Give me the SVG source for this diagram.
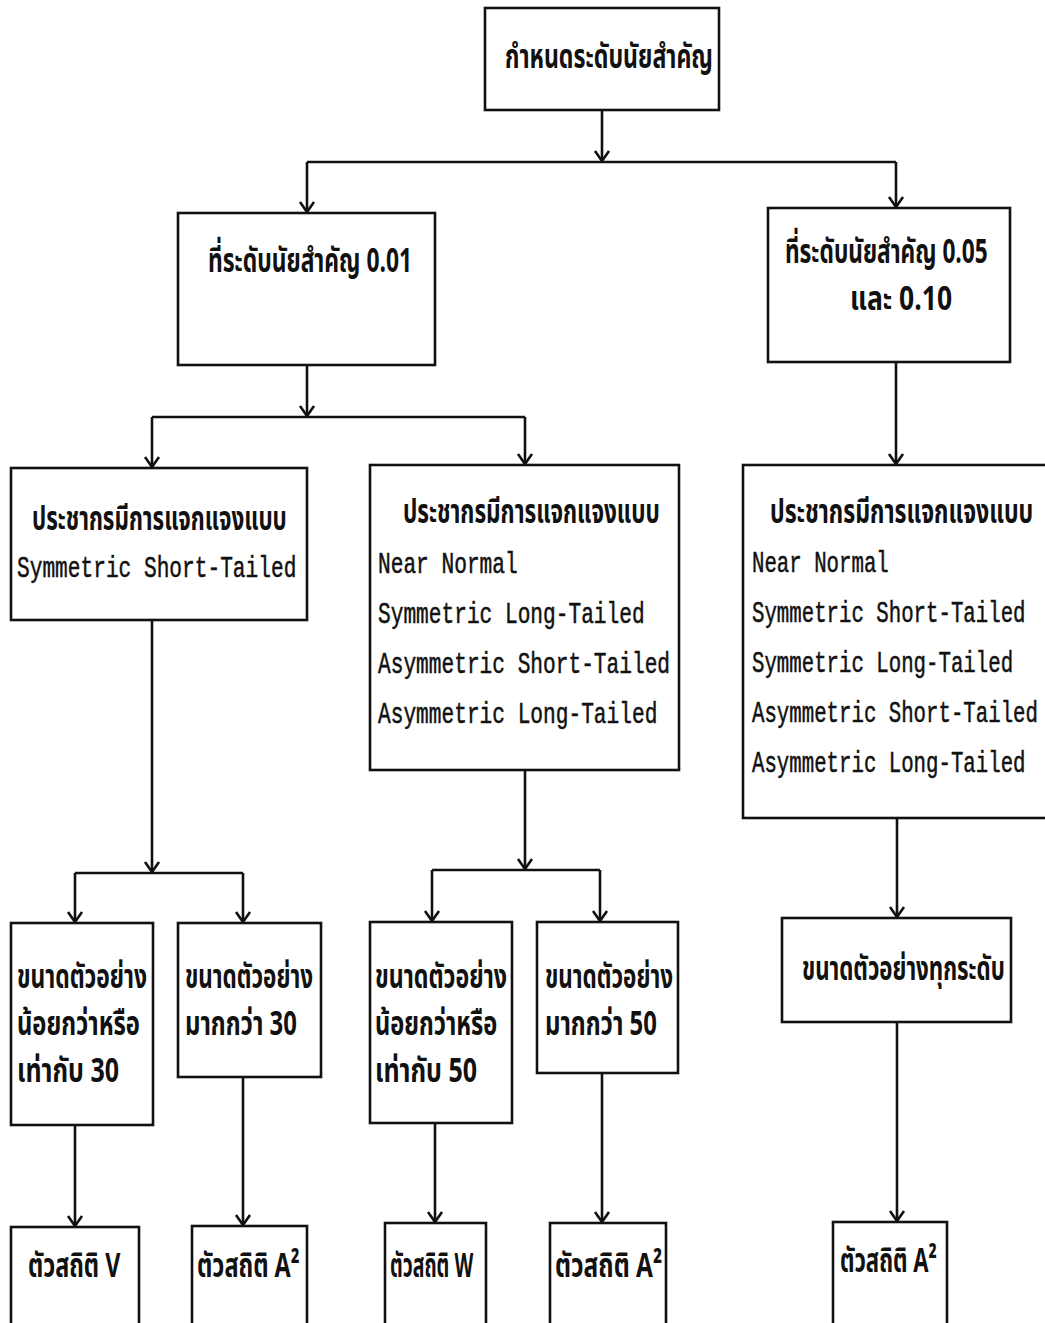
<svg xmlns="http://www.w3.org/2000/svg" width="1045" height="1323" viewBox="0 0 1045 1323">
<style>
.box{fill:none;stroke:#111;stroke-width:2.6}
.con{fill:none;stroke:#111;stroke-width:2.6}
.th{font-family:"Noto Sans Thai","Noto Sans",sans-serif;font-size:34px;font-weight:bold;fill:#111}
.mo{font-family:"Liberation Mono",monospace;font-size:29px;fill:#111;stroke:#111;stroke-width:0.5}
</style>
<defs>
<marker id="arr" markerUnits="userSpaceOnUse" viewBox="-12 -9 14 18" markerWidth="14" markerHeight="18" refX="0" refY="0" orient="auto">
<path d="M-10,-7 L0,0 L-10,7" fill="none" stroke="#111" stroke-width="2.6"/>
</marker>
</defs>
<rect width="1045" height="1323" fill="#fff"/>
<g id="connectors">
<path class="con" d="M602,110 V161" marker-end="url(#arr)"/>
<path class="con" d="M307,162 H896"/>
<path class="con" d="M307,162 V212" marker-end="url(#arr)"/>
<path class="con" d="M896,162 V207" marker-end="url(#arr)"/>
<path class="con" d="M307,365 V416" marker-end="url(#arr)"/>
<path class="con" d="M152,417 H525"/>
<path class="con" d="M152,417 V467" marker-end="url(#arr)"/>
<path class="con" d="M525,417 V464" marker-end="url(#arr)"/>
<path class="con" d="M896,362 V464" marker-end="url(#arr)"/>
<path class="con" d="M152,620 V872" marker-end="url(#arr)"/>
<path class="con" d="M75,873 H243"/>
<path class="con" d="M75,873 V922" marker-end="url(#arr)"/>
<path class="con" d="M243,873 V922" marker-end="url(#arr)"/>
<path class="con" d="M525,770 V869" marker-end="url(#arr)"/>
<path class="con" d="M432,870 H600"/>
<path class="con" d="M432,870 V921" marker-end="url(#arr)"/>
<path class="con" d="M600,870 V921" marker-end="url(#arr)"/>
<path class="con" d="M897,818 V917" marker-end="url(#arr)"/>
<path class="con" d="M75,1125 V1226" marker-end="url(#arr)"/>
<path class="con" d="M243,1077 V1225" marker-end="url(#arr)"/>
<path class="con" d="M435,1123 V1222" marker-end="url(#arr)"/>
<path class="con" d="M602,1073 V1222" marker-end="url(#arr)"/>
<path class="con" d="M897,1022 V1221" marker-end="url(#arr)"/>
</g>
<g id="n-root">
<rect class="box" x="485" y="8" width="234" height="102"/>
<text class="th" transform="translate(505,68) scale(0.65,1)" textLength="320" lengthAdjust="spacingAndGlyphs">กำหนดระดับนัยสำคัญ</text>
</g>
<g id="n-001">
<rect class="box" x="178" y="213" width="257" height="152"/>
<text class="th" transform="translate(208,272) scale(0.65,1)" textLength="314" lengthAdjust="spacingAndGlyphs">ที่ระดับนัยสำคัญ 0.01</text>
</g>
<g id="n-005">
<rect class="box" x="768" y="208" width="242" height="154"/>
<text class="th" transform="translate(785,263) scale(0.65,1)" textLength="312" lengthAdjust="spacingAndGlyphs">ที่ระดับนัยสำคัญ 0.05</text>
<text class="th" transform="translate(850,310) scale(0.65,1)" textLength="157" lengthAdjust="spacingAndGlyphs">และ 0.10</text>
</g>
<g id="n-pop1">
<rect class="box" x="11" y="468" width="296" height="152"/>
<text class="th" transform="translate(32,530) scale(0.65,1)" textLength="392" lengthAdjust="spacingAndGlyphs">ประชากรมีการแจกแจงแบบ</text>
<text class="mo" transform="translate(17,577) scale(0.73,1)">Symmetric Short-Tailed</text>
</g>
<g id="n-pop2">
<rect class="box" x="370" y="465" width="309" height="305"/>
<text class="th" transform="translate(403,523) scale(0.65,1)" textLength="395" lengthAdjust="spacingAndGlyphs">ประชากรมีการแจกแจงแบบ</text>
<text class="mo" transform="translate(378,573) scale(0.73,1)">Near Normal</text>
<text class="mo" transform="translate(378,623) scale(0.73,1)">Symmetric Long-Tailed</text>
<text class="mo" transform="translate(378,673) scale(0.73,1)">Asymmetric Short-Tailed</text>
<text class="mo" transform="translate(378,723) scale(0.73,1)">Asymmetric Long-Tailed</text>
</g>
<g id="n-pop3">
<rect class="box" x="743" y="465" width="320" height="353"/>
<text class="th" transform="translate(770,523) scale(0.65,1)" textLength="405" lengthAdjust="spacingAndGlyphs">ประชากรมีการแจกแจงแบบ</text>
<text class="mo" transform="translate(752,572) scale(0.715,1)">Near Normal</text>
<text class="mo" transform="translate(752,622) scale(0.715,1)">Symmetric Short-Tailed</text>
<text class="mo" transform="translate(752,672) scale(0.715,1)">Symmetric Long-Tailed</text>
<text class="mo" transform="translate(752,722) scale(0.715,1)">Asymmetric Short-Tailed</text>
<text class="mo" transform="translate(752,772) scale(0.715,1)">Asymmetric Long-Tailed</text>
</g>
<g id="n-le30">
<rect class="box" x="11" y="923" width="142" height="202"/>
<text class="th" transform="translate(17,988) scale(0.65,1)" textLength="200" lengthAdjust="spacingAndGlyphs">ขนาดตัวอย่าง</text>
<text class="th" transform="translate(17,1035) scale(0.65,1)" textLength="189" lengthAdjust="spacingAndGlyphs">น้อยกว่าหรือ</text>
<text class="th" transform="translate(17,1082) scale(0.65,1)" textLength="157" lengthAdjust="spacingAndGlyphs">เท่ากับ 30</text>
</g>
<g id="n-gt30">
<rect class="box" x="178" y="923" width="143" height="154"/>
<text class="th" transform="translate(185,988) scale(0.65,1)" textLength="197" lengthAdjust="spacingAndGlyphs">ขนาดตัวอย่าง</text>
<text class="th" transform="translate(185,1035) scale(0.65,1)" textLength="172" lengthAdjust="spacingAndGlyphs">มากกว่า 30</text>
</g>
<g id="n-le50">
<rect class="box" x="370" y="922" width="142" height="201"/>
<text class="th" transform="translate(375,988) scale(0.65,1)" textLength="203" lengthAdjust="spacingAndGlyphs">ขนาดตัวอย่าง</text>
<text class="th" transform="translate(375,1035) scale(0.65,1)" textLength="188" lengthAdjust="spacingAndGlyphs">น้อยกว่าหรือ</text>
<text class="th" transform="translate(375,1082) scale(0.65,1)" textLength="157" lengthAdjust="spacingAndGlyphs">เท่ากับ 50</text>
</g>
<g id="n-gt50">
<rect class="box" x="537" y="922" width="141" height="151"/>
<text class="th" transform="translate(545,988) scale(0.65,1)" textLength="197" lengthAdjust="spacingAndGlyphs">ขนาดตัวอย่าง</text>
<text class="th" transform="translate(545,1035) scale(0.65,1)" textLength="172" lengthAdjust="spacingAndGlyphs">มากกว่า 50</text>
</g>
<g id="n-all">
<rect class="box" x="782" y="918" width="229" height="104"/>
<text class="th" transform="translate(802,980) scale(0.65,1)" textLength="312" lengthAdjust="spacingAndGlyphs">ขนาดตัวอย่างทุกระดับ</text>
</g>
<g id="n-v">
<rect class="box" x="11" y="1227" width="128" height="110"/>
<text class="th" transform="translate(28,1277) scale(0.65,1)" textLength="142" lengthAdjust="spacingAndGlyphs">ตัวสถิติ V</text>
</g>
<g id="n-a1">
<rect class="box" x="192" y="1226" width="115" height="110"/>
<text class="th" transform="translate(197,1277) scale(0.65,1)" textLength="158" lengthAdjust="spacingAndGlyphs">ตัวสถิติ A²</text>
</g>
<g id="n-w">
<rect class="box" x="385" y="1223" width="101" height="110"/>
<text class="th" transform="translate(390,1277) scale(0.65,1)" textLength="128" lengthAdjust="spacingAndGlyphs">ตัวสถิติ W</text>
</g>
<g id="n-a2">
<rect class="box" x="550" y="1223" width="116" height="110"/>
<text class="th" transform="translate(555,1277) scale(0.65,1)" textLength="165" lengthAdjust="spacingAndGlyphs">ตัวสถิติ A²</text>
</g>
<g id="n-a3">
<rect class="box" x="833" y="1222" width="114" height="110"/>
<text class="th" transform="translate(840,1272) scale(0.65,1)" textLength="149" lengthAdjust="spacingAndGlyphs">ตัวสถิติ A²</text>
</g>
</svg>
